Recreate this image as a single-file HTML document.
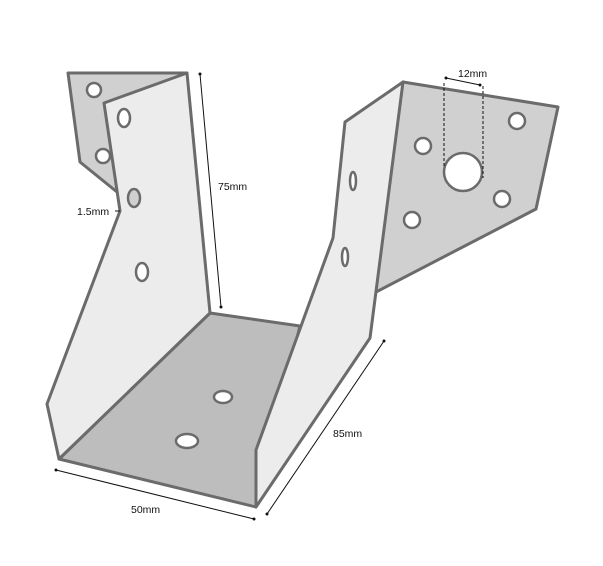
<!DOCTYPE html>
<html><head><style>body{margin:0;background:#fff}svg{display:block}text{font-family:"Liberation Sans",sans-serif;font-size:10.5px;fill:#111}</style></head><body>
<svg width="603" height="566" viewBox="0 0 603 566" xmlns="http://www.w3.org/2000/svg">
<g stroke="#6b6b6b" stroke-width="3" stroke-linejoin="round">
<polygon points="68,73 187,73 117,192 80,162" fill="#d0d0d0"/>
<polygon points="403,82 558,107 536,209 376,292 360,200" fill="#d0d0d0"/>
<polygon points="210,313 300,326 256,507 59,459" fill="#bdbdbd"/>
<polygon points="104,103 187,73 210,313 59,459 47,404 120,211" fill="#ececec"/>
<polygon points="345,122 403,82 370,338 256,507 256,450 333,238" fill="#ececec"/>
<g stroke-width="2.5" fill="#fff">
<circle cx="94" cy="90" r="7"/><circle cx="103" cy="156" r="7"/>
<ellipse cx="124" cy="118" rx="6" ry="9"/>
<ellipse cx="134" cy="198" rx="6" ry="9" fill="#d0d0d0"/>
<ellipse cx="142" cy="272" rx="6" ry="9"/>
<ellipse cx="223" cy="397" rx="9" ry="6"/>
<ellipse cx="187" cy="441" rx="11" ry="7"/>
<ellipse cx="353" cy="181" rx="3" ry="9"/>
<ellipse cx="345" cy="257" rx="3" ry="9"/>
<circle cx="423" cy="146" r="8"/><circle cx="517" cy="121" r="8"/>
<circle cx="412" cy="220" r="8"/><circle cx="502" cy="199" r="8"/>
<circle cx="463" cy="172" r="19"/>
</g>
</g>
<g stroke="#111" stroke-width="1" fill="none">
<line x1="444" y1="83" x2="444" y2="168" stroke-dasharray="3,2"/>
<line x1="483" y1="86" x2="483" y2="178" stroke-dasharray="3,2"/>
<line x1="446" y1="78" x2="480" y2="85"/>
<line x1="200" y1="74" x2="221" y2="307"/>
<line x1="384" y1="341" x2="267" y2="514"/>
<line x1="56" y1="470" x2="254" y2="519"/>
<line x1="115" y1="211" x2="120" y2="211"/>
</g>
<g fill="#111"><circle cx="446" cy="78" r="1.5"/><circle cx="480" cy="85" r="1.5"/><circle cx="200" cy="74" r="1.5"/><circle cx="221" cy="307" r="1.5"/><circle cx="384" cy="341" r="1.5"/><circle cx="267" cy="514" r="1.5"/><circle cx="56" cy="470" r="1.5"/><circle cx="254" cy="519" r="1.5"/></g>
<text x="458" y="77">12mm</text>
<text x="218" y="190">75mm</text>
<text x="77" y="215">1.5mm</text>
<text x="333" y="437">85mm</text>
<text x="131" y="513">50mm</text>
</svg>
</body></html>
